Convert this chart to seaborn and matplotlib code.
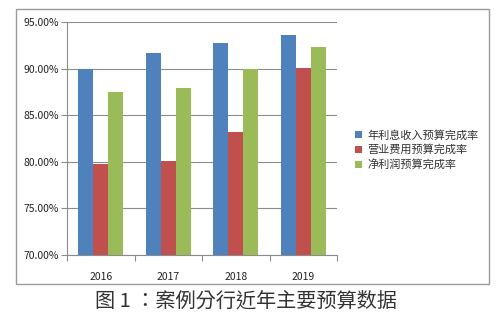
import matplotlib
matplotlib.use("Agg")
import matplotlib.pyplot as plt
import matplotlib.patches as mpatches
from matplotlib.ticker import FixedLocator, PercentFormatter
import seaborn as sns
import pandas as pd

years = ["2016", "2017", "2018", "2019"]
series_names = ["年利息收入预算完成率", "营业费用预算完成率", "净利润预算完成率"]
interest_income = [90.0, 91.7, 92.7, 93.6]
operating_expense = [79.8, 80.1, 83.2, 90.1]
net_profit = [87.5, 87.9, 90.0, 92.3]
colors = ["#4F81BD", "#C0504D", "#9BBB59"]
caption = "图 1 ：案例分行近年主要预算数据"

df = pd.DataFrame({
    "year": years * 3,
    "series": [s for s in series_names for _ in years],
    "value": interest_income + operating_expense + net_profit,
})

sns.set_theme(style="white")
plt.rcParams["font.family"] = ["Noto Sans CJK SC", "DejaVu Sans"]

fig = plt.figure(figsize=(5.0, 3.22), dpi=100)
fig.patch.set_facecolor("white")

# outer chart frame
fig.patches.append(mpatches.Rectangle(
    (16 / 500, 1 - 284 / 322), (489 - 16) / 500, (284 - 9) / 322,
    transform=fig.transFigure, fill=False, edgecolor="#9a9a9a", linewidth=1.0))

ax = fig.add_axes([67 / 500, 1 - 255 / 322, 270 / 500, 233 / 322])
sns.barplot(data=df, x="year", y="value", hue="series", order=years,
            hue_order=series_names, palette=colors, width=0.667, gap=0,
            saturation=1, linewidth=0, ax=ax)

ax.set_xlim(-0.5, 3.5)
ax.set_ylim(70, 95)
ax.set_yticks([70, 75, 80, 85, 90, 95])
ax.yaxis.set_major_formatter(PercentFormatter(decimals=2))
ax.yaxis.grid(True, color="#8c8c8c", linewidth=0.8)
ax.set_axisbelow(True)
ax.set_xlabel("")
ax.set_ylabel("")

for side in ["top", "right"]:
    ax.spines[side].set_visible(False)
for side in ["left", "bottom"]:
    ax.spines[side].set_color("#8c8c8c")
    ax.spines[side].set_linewidth(0.8)

ax.tick_params(axis="y", which="major", left=True, length=4, width=0.8,
               color="#8c8c8c", labelsize=7.5, labelcolor="#222222", pad=2)
ax.tick_params(axis="x", which="major", bottom=False, labelsize=7.5,
               labelcolor="#222222", pad=6)
ax.xaxis.set_minor_locator(FixedLocator([-0.5, 0.5, 1.5, 2.5, 3.5]))
ax.tick_params(axis="x", which="minor", bottom=True, length=4, width=0.8,
               color="#8c8c8c")
for lbl in ax.get_xticklabels():
    lbl.set_fontweight("medium")

handles, labels = ax.get_legend_handles_labels()
ax.legend(handles, labels, loc="upper left", bbox_to_anchor=(345 / 500, 1 - 120 / 322),
          bbox_transform=fig.transFigure, frameon=False, fontsize=8,
          handlelength=0.6, handleheight=0.6, handletextpad=0.5,
          labelspacing=0.35, labelcolor="#333333")

fig.text(0.491, 1 - 301 / 322, caption, ha="center", va="center",
         fontsize=14.5, color="#333333",
         family=["Noto Sans CJK TC", "DejaVu Sans"])

fig.savefig("out.png", dpi=100, facecolor="white")
